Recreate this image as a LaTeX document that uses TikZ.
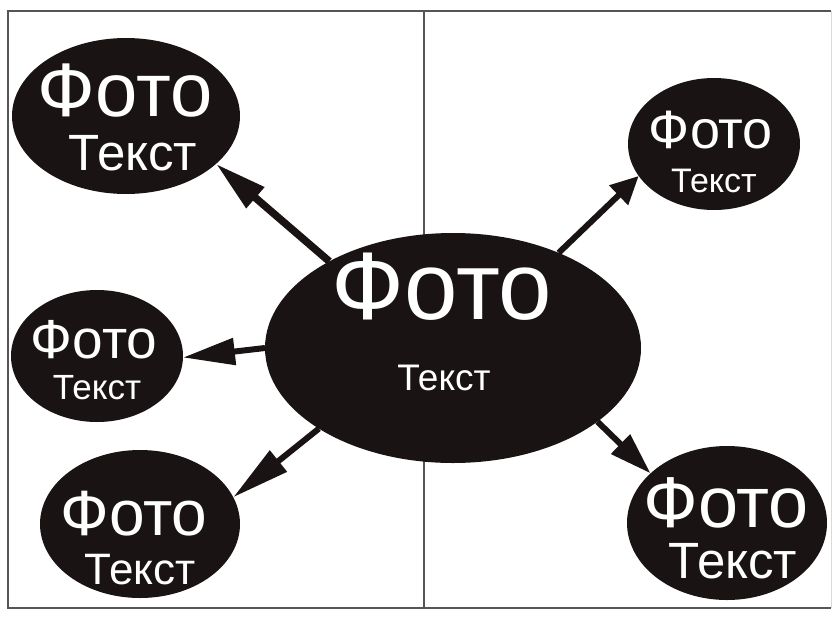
\documentclass[tikz,border=0pt]{standalone}
\usepackage{fontspec}
\setmainfont{Liberation Sans}
\usetikzlibrary{shapes.geometric, arrows.meta}

\definecolor{blobfill}{RGB}{26,19,19}
\definecolor{framegray}{RGB}{85,85,85}

\tikzset{
    blob/.style={ellipse, fill=blobfill, inner sep=0pt, outer sep=0pt},
    word/.style={text=white, inner sep=0pt},
    link/.style={draw=blobfill, line width=6pt, -{Triangle[length=#1, width=26pt]}},
    link/.default=45pt,
    frame/.style={draw=framegray, line width=1.4pt}
}

\newcommand{\fs}[1]{\fontsize{#1}{#1}\selectfont}

\begin{document}
\begin{tikzpicture}[x=1pt, y=-1pt]
        \useasboundingbox (0,0) rectangle (838,619);

        % frame and divider
        \draw[frame] (831,11) -- (8,11) -- (8,608) -- (831,608);
        \draw[draw=gray!30, line width=1pt] (831,11) -- (831,608);
        \draw[frame] (424,11) -- (424,608);

        % central ellipse
        \node[blob, minimum width=376pt, minimum height=230pt] (c) at (453,348) {};
        \node[word, font=\fs{96}] (cphoto) at (442,287) {Фото};
        \node[word, font=\fs{37}] (ctext) at (444,378) {Текст};

        % outer ellipses
        \node[blob, minimum width=228pt, minimum height=156pt] (tl) at (126,116) {};
        \node[word, font=\fs{76}] (tlphoto) at (125,91) {Фото};
        \node[word, font=\fs{51}] (tltext) at (133,153) {Текст};

        \node[blob, minimum width=172pt, minimum height=132pt] (tr) at (714,144) {};
        \node[word, font=\fs{54}] (trphoto) at (711,130) {Фото};
        \node[word, font=\fs{34}] (trtext) at (714,181) {Текст};

        \node[blob, minimum width=172pt, minimum height=132pt] (ml) at (97,356) {};
        \node[word, font=\fs{55}] (mlphoto) at (94,340) {Фото};
        \node[word, font=\fs{35}] (mltext) at (97,388) {Текст};

        \node[blob, minimum width=200pt, minimum height=148pt] (bl) at (140,524) {};
        \node[word, font=\fs{64}] (blphoto) at (134,514) {Фото};
        \node[word, font=\fs{44}] (bltext) at (140,570) {Текст};

        \node[blob, minimum width=200pt, minimum height=154pt] (br) at (727,523) {};
        \node[word, font=\fs{72}] (brphoto) at (726,503) {Фото};
        \node[word, font=\fs{51}] (brtext) at (733,561) {Текст};

        % arrows out of the centre
        \draw[link=52pt, line width=7.5pt] (c.145) -- (tl.-28);
        \draw[link=28pt] (c.42) -- (tr.203);
        \draw[link=52pt] (c.180) -- (ml.-1);
        \draw[link=58pt] (c.211) -- (bl.16);
        \draw[link=42pt] (c.333) -- (br.147);
    \end{tikzpicture}
\end{document}
